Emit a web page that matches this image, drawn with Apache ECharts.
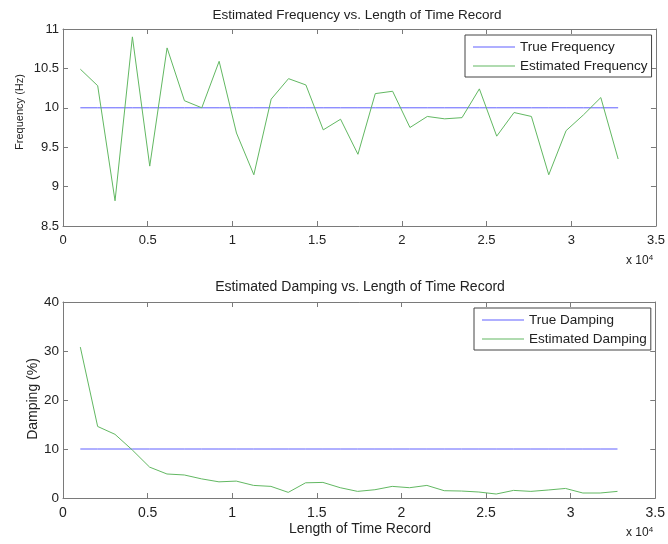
<!DOCTYPE html>
<html>
<head>
<meta charset="utf-8">
<script src="https://cdn.jsdelivr.net/npm/echarts@6/dist/echarts.min.js"></script>
<style>
html,body{margin:0;padding:0;background:#fff;}
#c{width:668px;height:544px;}
</style>
</head>
<body>
<div id="c"></div>
<script>
// Data
const recordLengths = [1024, 2048, 3072, 4096, 5120, 6144, 7168, 8192, 9216, 10240, 11264, 12288, 13312, 14336, 15360, 16384,
  17408, 18432, 19456, 20480, 21504, 22528, 23552, 24576, 25600, 26624, 27648, 28672, 29696, 30720, 31744, 32768];
const trueFrequency = 10;
const estimatedFrequency = [10.49, 10.28, 8.82, 10.90, 9.26, 10.76, 10.09, 10.00, 10.59, 9.68, 9.15, 10.11, 10.37, 10.29, 9.72, 9.855,
  9.41, 10.18, 10.21, 9.75, 9.89, 9.86, 9.875, 10.24, 9.64, 9.94, 9.89, 9.15, 9.71, 9.91, 10.13, 9.35];
const trueDamping = 10;
const estimatedDamping = [30.8, 14.6, 13.0, 9.8, 6.3, 4.9, 4.7, 3.9, 3.3, 3.45, 2.57, 2.37, 1.15, 3.1, 3.18, 2.1,
  1.35, 1.69, 2.37, 2.1, 2.57, 1.49, 1.42, 1.22, 0.81, 1.55, 1.35, 1.63, 1.95, 1.02, 1.02, 1.35];
const xTicks = ['0', '0.5', '1', '1.5', '2', '2.5', '3', '3.5'];

const FONT = 'Liberation Sans, Arial, sans-serif';
const AXIS_COLOR = '#7a7a7a';
const TEXT_COLOR = '#222';
const BLUE = '#6060ff';
const GREEN = '#62b862';

const grids = [
  {left: 63, width: 595, top: 29, height: 197},
  {left: 63, width: 595, top: 302, height: 196}
];

function xAxisPair(gi, fs, margin) {
  const base = {
    gridIndex: gi, type: 'value', min: 0, max: 35000, interval: 5000,
    axisLine: {show: true, onZero: false, lineStyle: {color: AXIS_COLOR, width: 1}},
    axisTick: {show: true, inside: true, length: 5, lineStyle: {color: AXIS_COLOR}},
    splitLine: {show: false}
  };
  return [
    Object.assign({}, base, {position: 'bottom',
      axisLabel: {show: true, margin: margin, color: TEXT_COLOR, fontFamily: FONT, fontSize: fs,
        formatter: v => xTicks[Math.round(v / 5000)]}}),
    Object.assign({}, base, {position: 'top', axisLabel: {show: false}})
  ];
}
function yAxisPair(gi, min, max, interval, fs, fmt) {
  const base = {
    gridIndex: gi, type: 'value', min: min, max: max, interval: interval,
    axisLine: {show: true, onZero: false, lineStyle: {color: AXIS_COLOR, width: 1}},
    axisTick: {show: true, inside: true, length: 5, lineStyle: {color: AXIS_COLOR}},
    splitLine: {show: false}
  };
  return [
    Object.assign({}, base, {position: 'left',
      axisLabel: {show: true, margin: 4, color: TEXT_COLOR, fontFamily: FONT, fontSize: fs, formatter: fmt}}),
    Object.assign({}, base, {position: 'right', axisLabel: {show: false}})
  ];
}

const freqTrue = recordLengths.map(x => [x, trueFrequency]);
const freqEst = recordLengths.map((x, i) => [x, estimatedFrequency[i]]);
const dampTrue = recordLengths.map(x => [x, trueDamping]);
const dampEst = recordLengths.map((x, i) => [x, estimatedDamping[i]]);

const legendBase = {
  orient: 'vertical', icon: 'rect', itemWidth: 42, itemHeight: 1, itemGap: 5,
  padding: [5, 4, 4, 8],
  borderColor: '#444', borderWidth: 1, borderRadius: 0, backgroundColor: '#fff',
  textStyle: {color: TEXT_COLOR, fontFamily: FONT, fontSize: 13.5},
  selectedMode: false
};

function plainTitle(text, left, top, size) {
  return {text: text, left: left, top: top, textAlign: 'center', padding: 0,
    textStyle: {color: TEXT_COLOR, fontFamily: FONT, fontSize: size, fontWeight: 'normal'}};
}
function expTitle(left, top) {
  return {text: 'x 10{s|4}', left: left, top: top, padding: 0,
    textStyle: {color: TEXT_COLOR, fontFamily: FONT, fontSize: 12, fontWeight: 'normal',
      rich: {s: {fontSize: 8, verticalAlign: 'top', padding: [0, 0, 6, 0], fontFamily: FONT, color: TEXT_COLOR}}}};
}
function yName(text, x, y, size) {
  return {type: 'text', x: x, y: y, rotation: Math.PI / 2,
    style: {text: text, align: 'center', verticalAlign: 'middle', fontSize: size, fontFamily: FONT, fill: TEXT_COLOR}};
}

const option = {
  animation: false,
  backgroundColor: '#fff',
  title: [
    plainTitle('Estimated Frequency vs. Length of Time Record', 357, 8, 13.5),
    plainTitle('Estimated Damping vs. Length of Time Record', 360, 280, 14),
    plainTitle('Length of Time Record', 360, 522, 14),
    expTitle(626, 254),
    expTitle(626, 526)
  ],
  graphic: [
    yName('Frequency (Hz)', 19.5, 112, 11),
    yName('Damping (%)', 33, 399, 14)
  ],
  legend: [
    Object.assign({}, legendBase, {left: 465, top: 35, data: ['True Frequency', 'Estimated Frequency']}),
    Object.assign({}, legendBase, {left: 474, top: 308, data: ['True Damping', 'Estimated Damping']})
  ],
  grid: grids,
  xAxis: [...xAxisPair(0, 13, 8), ...xAxisPair(1, 14, 8)],
  yAxis: [
    ...yAxisPair(0, 8.5, 11, 0.5, 13, v => String(Math.round(v * 10) / 10)),
    ...yAxisPair(1, 0, 40, 10, 13.5, v => String(v))
  ],
  series: [
    {name: 'True Frequency', type: 'line', xAxisIndex: 0, yAxisIndex: 0, data: freqTrue, symbol: 'none',
      lineStyle: {color: BLUE, width: 1}, itemStyle: {color: BLUE}},
    {name: 'Estimated Frequency', type: 'line', xAxisIndex: 0, yAxisIndex: 0, data: freqEst, symbol: 'none',
      lineStyle: {color: GREEN, width: 1}, itemStyle: {color: GREEN}},
    {name: 'True Damping', type: 'line', xAxisIndex: 2, yAxisIndex: 2, data: dampTrue, symbol: 'none',
      lineStyle: {color: BLUE, width: 1}, itemStyle: {color: BLUE}},
    {name: 'Estimated Damping', type: 'line', xAxisIndex: 2, yAxisIndex: 2, data: dampEst, symbol: 'none',
      lineStyle: {color: GREEN, width: 1}, itemStyle: {color: GREEN}}
  ]
};

const chart = echarts.init(document.getElementById('c'), null, {renderer: 'canvas'});
chart.setOption(option);
</script>
</body>
</html>
